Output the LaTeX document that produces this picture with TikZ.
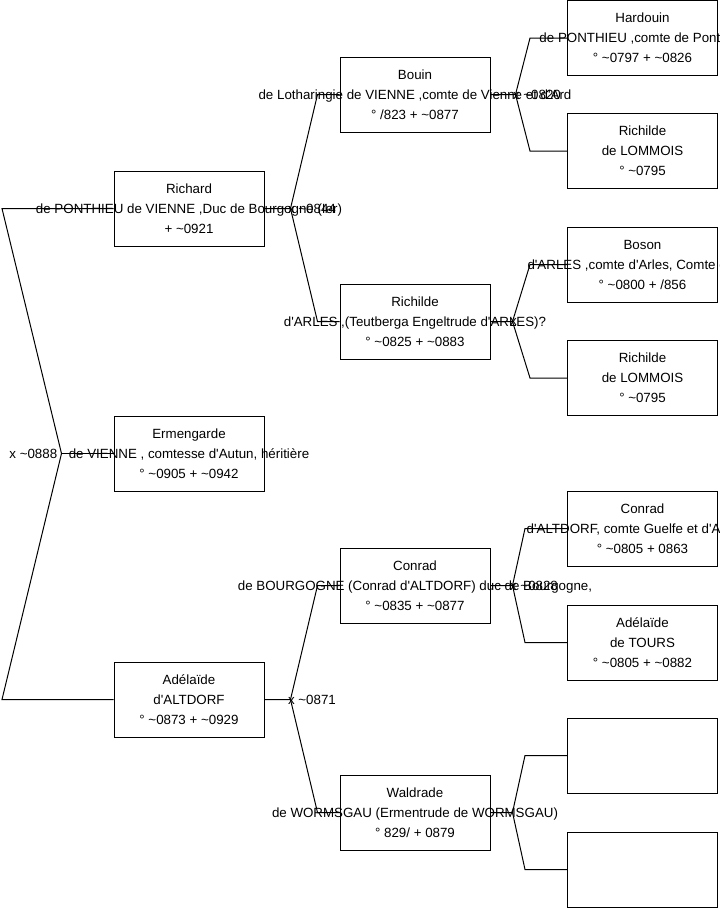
\documentclass[tikz,border=0pt]{standalone}
\usepackage{fontspec}
\setmainfont{Liberation Sans}[Ligatures=TeXOff]
\usetikzlibrary{calc}
\newcommand\tld{\textasciitilde}
\newcommand\wide[1]{\makebox[0pt]{#1}}
\tikzset{
	personbox/.style = {draw, line width=0.75pt, minimum width=112.5pt, minimum height=56.25pt, inner sep=0pt, align=center, font=\fontsize{10}{15}\selectfont},
	link/.style = {line width=0.75pt},
	union/.style = {inner sep=0pt, font=\fontsize{10}{12}\selectfont}
}
\begin{document}
\begin{tikzpicture} [x=0.75pt, y=-0.75pt]
	\useasboundingbox (0,0) rectangle (719,908);
	\fill[white] (0,0) rectangle (719,908);
	\clip (0,0) rectangle (719,908);
	% generation 1
	\node [personbox] (richard) at (189,208.5) {Richard\\ \wide{de PONTHIEU de VIENNE ,Duc de Bourgogne (Ier)}\\ + \tld0921};
	\node [personbox] (ermengarde) at (189,453.5) {Ermengarde\\ \wide{de VIENNE , comtesse d'Autun, héritière}\\ ° \tld0905 + \tld0942};
	\node [personbox] (adelaide) at (189,699.5) {Adélaïde\\ d'ALTDORF\\ ° \tld0873 + \tld0929};
	% generation 2
	\node [personbox] (bouin) at (415,94.5) {Bouin\\ \wide{de Lotharingie de VIENNE ,comte de Vienne et d'Ard}\\ ° /823 + \tld0877};
	\node [personbox] (richildeA) at (415,321.5) {Richilde\\ \wide{d'ARLES ,(Teutberga Engeltrude d'ARLES)?}\\ ° \tld0825 + \tld0883};
	\node [personbox] (conrad) at (415,585.5) {Conrad\\ \wide{de BOURGOGNE (Conrad d'ALTDORF) duc de Bourgogne,}\\ ° \tld0835 + \tld0877};
	\node [personbox] (waldrade) at (415,812.5) {Waldrade\\ \wide{de WORMSGAU (Ermentrude de WORMSGAU)}\\ ° 829/ + 0879};
	% generation 3
	\node [personbox] (hardouin) at (642.5,38) {Hardouin\\ \wide{de PONTHIEU ,comte de Ponthieu}\\ ° \tld0797 + \tld0826};
	\node [personbox] (richildeL) at (642.5,151) {Richilde\\ de LOMMOIS\\ ° \tld0795};
	\node [personbox] (boson) at (642.5,264.5) {Boson\\ \wide{d'ARLES ,comte d'Arles, Comte d'Italie}\\ ° \tld0800 + /856};
	\node [personbox] (richildeM) at (642.5,378) {Richilde\\ de LOMMOIS\\ ° \tld0795};
	\node [personbox] (conradA) at (642.5,528.5) {Conrad\\ \wide{d'ALTDORF, comte Guelfe et d'Auxerre}\\ ° \tld0805 + 0863};
	\node [personbox] (adelaideT) at (642.5,642.5) {Adélaïde\\ de TOURS\\ ° \tld0805 + \tld0882};
	\node [personbox] (blankA) at (642.5,755.5) {};
	\node [personbox] (blankB) at (642.5,869.5) {};
	% unions
	\coordinate (rail) at (2,0);
	\coordinate (m0) at ($(ermengarde.west)+(-52,0)$);
	\draw [link] (richard.west) -- (richard.west -| rail) -- (m0) -- (adelaide.west -| rail) -- (adelaide.west);
	\draw [link] (m0) -- (ermengarde.west);
	\node [union, anchor=east, xshift=-3pt] (u0) at (m0) {x \tld0888};
	\coordinate (m1) at ($(richard.east)+(26,0)$);
	\draw [link] (richard.east) -- (m1) -- ($(bouin.west)+(-22,0)$) -- (bouin.west);
	\draw [link] (m1) -- ($(richildeA.west)+(-22,0)$) -- (richildeA.west);
	\node [union, anchor=west, xshift=-2pt] (u1) at (m1) {x \tld0844};
	\coordinate (m2) at ($(adelaide.east)+(26,0)$);
	\draw [link] (adelaide.east) -- (m2) -- ($(conrad.west)+(-22,0)$) -- (conrad.west);
	\draw [link] (m2) -- ($(waldrade.west)+(-22,0)$) -- (waldrade.west);
	\node [union, anchor=west, xshift=-2pt] (u2) at (m2) {x \tld0871};
	\coordinate (m3) at ($(bouin.east)+(25,0)$);
	\draw [link] (bouin.east) -- (m3) -- ($(hardouin.west)+(-37,0)$) -- (hardouin.west);
	\draw [link] (m3) -- ($(richildeL.west)+(-37,0)$) -- (richildeL.west);
	\node [union, anchor=west, xshift=-2pt] (u3) at (m3) {x \tld0820};
	\coordinate (m4) at ($(richildeA.east)+(22,0)$);
	\draw [link] (richildeA.east) -- (m4) -- ($(boson.west)+(-37,0)$) -- (boson.west);
	\draw [link] (m4) -- ($(richildeM.west)+(-37,0)$) -- (richildeM.west);
	\node [union, anchor=west, xshift=-2pt] (u4) at (m4) {x};
	\coordinate (m5) at ($(conrad.east)+(22,0)$);
	\draw [link] (conrad.east) -- (m5) -- ($(conradA.west)+(-42,0)$) -- (conradA.west);
	\draw [link] (m5) -- ($(adelaideT.west)+(-42,0)$) -- (adelaideT.west);
	\node [union, anchor=west, xshift=-2pt] (u5) at (m5) {x \tld0828};
	\coordinate (m6) at ($(waldrade.east)+(22,0)$);
	\draw [link] (waldrade.east) -- (m6) -- ($(blankA.west)+(-42,0)$) -- (blankA.west);
	\draw [link] (m6) -- ($(blankB.west)+(-42,0)$) -- (blankB.west);
\end{tikzpicture}
\end{document}
